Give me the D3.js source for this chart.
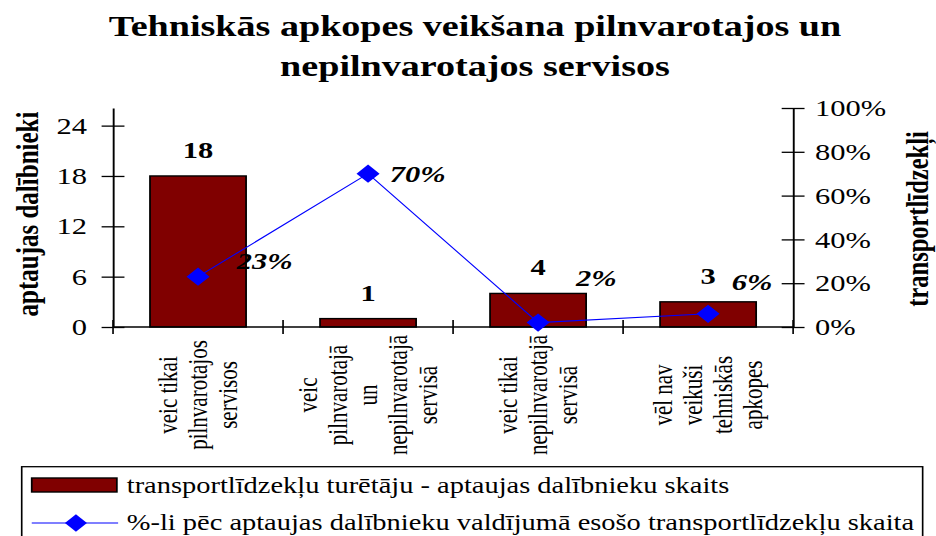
<!DOCTYPE html>
<html>
<head>
<meta charset="utf-8">
<script src="https://cdn.jsdelivr.net/npm/d3@7"></script>
<style>
  body { margin: 0; background: #fff; }
  svg { display: block; }
  text { font-family: "Liberation Serif", "Times New Roman", serif; fill: #000; }
</style>
</head>
<body>
<div id="chart"></div>
<script>
var categories = [
    ["veic tikai", "pilnvarotajos", "servisos"],
    ["veic", "pilnvarotajā", "un", "nepilnvarotajā", "servisā"],
    ["veic tikai", "nepilnvarotajā", "servisā"],
    ["vēl nav", "veikuši", "tehniskās", "apkopes"]
];
var participants = [18, 1, 4, 3];
var vehicleShare = [0.23, 0.70, 0.02, 0.06];
var countTicks = [0, 6, 12, 18, 24];
var shareTicks = [0, 0.2, 0.4, 0.6, 0.8, 1];
var titleLines = ["Tehniskās apkopes veikšana pilnvarotajos un", "nepilnvarotajos servisos"];
var leftTitle = "aptaujas dalībnieki";
var rightTitle = "transportlīdzekļi";
var legendLabels = [
    "transportlīdzekļu turētāju - aptaujas dalībnieku skaits",
    "%-li pēc aptaujas dalībnieku valdījumā esošo transportlīdzekļu skaita"
];

document.addEventListener("DOMContentLoaded", function() {

    // the original picture is stretched sideways, so draw in narrow units and scale
    var sx = 1.27;
    var width = 936, height = 536;
    var plot = { left: 89, right: 624.5, top: 108, bottom: 327 };
    var barColor = "#800000", lineColor = "#0000ff";

    // per-point nudges of the % labels (layout only)
    var pctShift = [[30.5, -7.7], [17.1, 8], [29.9, -36.7], [18.7, -24]];

    var keys = categories.map(function(c) { return c.join(" "); });

    var svg = d3.select("#chart").append("svg")
        .attr("width", width)
        .attr("height", height);

    var g = svg.append("g")
        .attr("transform", "scale(" + sx + ",1)");

    var x = d3.scaleBand()
        .domain(keys)
        .range([plot.left, plot.right])
        .paddingInner(0.435)
        .paddingOuter(0.2175);

    var yL = d3.scaleLinear().domain([0, 26.1]).range([plot.bottom, plot.top]);
    var yR = d3.scaleLinear().domain([0, 1]).range([plot.bottom, plot.top]);

    var cx = function(i) { return x(keys[i]) + x.bandwidth() / 2; };

    // title
    g.selectAll(".title")
        .data(titleLines)
        .enter().append("text")
        .attr("class", "title")
        .attr("x", 374)
        .attr("y", function(d, i) { return 36 + i * 40; })
        .attr("text-anchor", "middle")
        .style("font-size", "30px")
        .style("font-weight", "bold")
        .text(function(d) { return d; });

    // bars
    g.selectAll(".bar")
        .data(participants)
        .enter().append("rect")
        .attr("class", "bar")
        .attr("x", function(d, i) { return x(keys[i]); })
        .attr("y", function(d) { return yL(d); })
        .attr("width", x.bandwidth())
        .attr("height", function(d) { return yL(0) - yL(d); })
        .attr("fill", barColor)
        .attr("stroke", "#000")
        .attr("stroke-width", 1.4);

    // left axis
    var axL = g.append("g")
        .attr("transform", "translate(" + plot.left + ",0)")
        .call(d3.axisLeft(yL).tickValues(countTicks).tickSize(9).tickSizeOuter(0).tickPadding(11.5));

    // right axis
    var axR = g.append("g")
        .attr("transform", "translate(" + plot.right + ",0)")
        .call(d3.axisRight(yR).tickValues(shareTicks).tickFormat(d3.format(".0%"))
            .tickSize(9).tickSizeOuter(0).tickPadding(8.3));

    [axL, axR].forEach(function(ax) {
        ax.attr("font-family", null).attr("font-size", null);
        ax.select(".domain").attr("stroke", "#000").attr("stroke-width", 1.5);
        ax.selectAll(".tick line").attr("x1", -9).attr("x2", 9)
            .attr("stroke", "#000").attr("stroke-width", 1.3);
        ax.selectAll(".tick text").style("font-size", "24px");
    });

    // category axis with ticks between the groups
    g.append("line")
        .attr("x1", plot.left).attr("x2", plot.right)
        .attr("y1", plot.bottom).attr("y2", plot.bottom)
        .attr("stroke", "#000").attr("stroke-width", 1.5);

    g.selectAll(".xtick")
        .data(d3.range(keys.length + 1))
        .enter().append("line")
        .attr("class", "xtick")
        .attr("x1", function(d) { return plot.left + d * x.step(); })
        .attr("x2", function(d) { return plot.left + d * x.step(); })
        .attr("y1", plot.bottom - 7)
        .attr("y2", plot.bottom + 7)
        .attr("stroke", "#000").attr("stroke-width", 1.3);

    var catG = g.selectAll(".cat")
        .data(categories)
        .enter().append("g")
        .attr("class", "cat")
        .attr("transform", function(d, i) { return "translate(" + cx(i) + ",395)"; });

    catG.selectAll("text")
        .data(function(d) { return d.map(function(t, j) { return { t: t, off: (j - (d.length - 1) / 2) * 23.6 }; }); })
        .enter().append("text")
        .attr("transform", function(d) { return "translate(" + d.off + ",0) rotate(-90)"; })
        .attr("text-anchor", "middle")
        .attr("dominant-baseline", "central")
        .style("font-size", "21px")
        .text(function(d) { return d.t; });

    // axis titles
    g.append("text")
        .attr("transform", "translate(21.3,214) rotate(-90)")
        .attr("text-anchor", "middle")
        .attr("dominant-baseline", "central")
        .style("font-size", "25px")
        .style("font-weight", "bold")
        .text(leftTitle);

    g.append("text")
        .attr("transform", "translate(722.5,219) rotate(-90)")
        .attr("text-anchor", "middle")
        .attr("dominant-baseline", "central")
        .style("font-size", "24.5px")
        .style("font-weight", "bold")
        .text(rightTitle);

    // share line and markers
    var valueline = d3.line()
        .x(function(d, i) { return cx(i); })
        .y(function(d) { return yR(d); });

    g.append("path")
        .datum(vehicleShare)
        .attr("d", valueline)
        .attr("fill", "none")
        .attr("stroke", lineColor)
        .attr("stroke-width", 1);

    var diamond = d3.symbol().type(d3.symbolSquare).size(165);

    g.selectAll(".dot")
        .data(vehicleShare)
        .enter().append("path")
        .attr("class", "dot")
        .attr("d", diamond)
        .attr("transform", function(d, i) { return "translate(" + cx(i) + "," + yR(d) + ") rotate(45)"; })
        .attr("fill", lineColor);

    // data labels
    g.selectAll(".barlabel")
        .data(participants)
        .enter().append("text")
        .attr("class", "barlabel")
        .attr("x", function(d, i) { return cx(i); })
        .attr("y", function(d) { return yL(d) - 18; })
        .attr("text-anchor", "middle")
        .style("font-size", "24px")
        .style("font-weight", "bold")
        .text(function(d) { return d; });

    g.selectAll(".pctlabel")
        .data(vehicleShare)
        .enter().append("text")
        .attr("class", "pctlabel")
        .attr("x", function(d, i) { return cx(i) + pctShift[i][0]; })
        .attr("y", function(d, i) { return yR(d) + pctShift[i][1]; })
        .style("font-size", "24px")
        .style("font-weight", "bold")
        .style("font-style", "italic")
        .text(function(d) { return d3.format(".0%")(d); });

    // legend
    var lg = g.append("g");

    lg.append("rect")
        .attr("x", 17.1).attr("y", 466.7)
        .attr("width", 709.4).attr("height", 90)
        .attr("fill", "#fff")
        .attr("stroke", "#000").attr("stroke-width", 1.3);

    lg.append("rect")
        .attr("x", 25).attr("y", 478)
        .attr("width", 67).attr("height", 14)
        .attr("fill", barColor)
        .attr("stroke", "#000").attr("stroke-width", 1.4);

    lg.append("line")
        .attr("x1", 25).attr("x2", 93)
        .attr("y1", 523).attr("y2", 523)
        .attr("stroke", lineColor).attr("stroke-width", 1);

    lg.append("path")
        .attr("d", d3.symbol().type(d3.symbolSquare).size(150))
        .attr("transform", "translate(59.8,523) rotate(45)")
        .attr("fill", lineColor);

    lg.selectAll(".legtext")
        .data(legendLabels)
        .enter().append("text")
        .attr("class", "legtext")
        .attr("x", 99.8)
        .attr("y", function(d, i) { return 493 + i * 37; })
        .style("font-size", "22.4px")
        .text(function(d) { return d; });
});
</script>
</body>
</html>
